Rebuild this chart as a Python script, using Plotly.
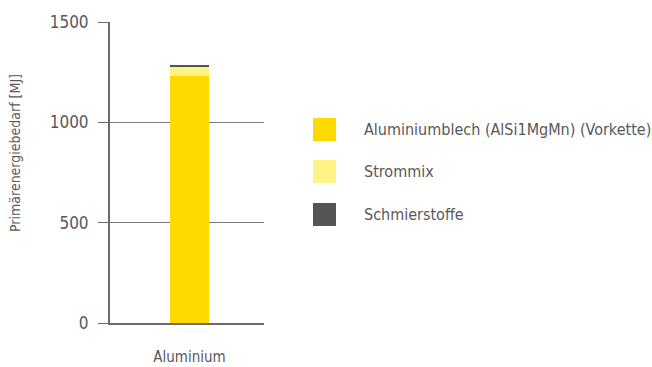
import plotly.graph_objects as go

# Primary energy demand per life-cycle contributor (MJ)
categories = ["Aluminium"]
series_names = ["Aluminiumblech (AlSi1MgMn) (Vorkette)", "Strommix", "Schmierstoffe"]
series_values = [[1230], [48], [6]]
series_colors = ["#FFDA00", "#FFF387", "#555558"]
y_ticks = [0, 500, 1000, 1500]

FONT = "Liberation Sans Narrow, DejaVu Sans Condensed, sans-serif"
TEXT = "#58585A"
AXIS = "#6A6A6A"

W, H = 652, 367
L, R, T, B = 110, 388, 22, 44
pw, ph = W - L - R, H - T - B

fig = go.Figure()
for name, vals, col in zip(series_names, series_values, series_colors):
    fig.add_trace(go.Bar(
        x=categories, y=vals, name=name,
        marker=dict(color=col, line=dict(width=0)),
        width=0.25, showlegend=False,
    ))


def px_x(p):
    return (p - L) / pw


def px_y(p):
    return (H - B - p) / ph


def font(size):
    return dict(family=FONT, size=size, color=TEXT)


# Legend built from squares and labels
legend_rows = [129.5, 171.5, 214.5]
for name, col, cy in zip(series_names, series_colors, legend_rows):
    fig.add_shape(type="rect", xref="paper", yref="paper",
                  x0=px_x(313), x1=px_x(336), y0=px_y(cy + 11.5), y1=px_y(cy - 11.5),
                  fillcolor=col, line=dict(width=0))
    fig.add_annotation(xref="paper", yref="paper", x=px_x(362), y=px_y(cy),
                       text=name, showarrow=False, xanchor="left", yanchor="middle",
                       font=font(16))

# Y-axis title
fig.add_annotation(xref="paper", yref="paper", x=px_x(15), y=px_y(153),
                   text="Primärenergiebedarf [MJ]", textangle=-90, showarrow=False,
                   xanchor="center", yanchor="middle", font=font(14))

fig.update_layout(
    width=W, height=H,
    margin=dict(l=L, r=R, t=T, b=B, pad=0),
    barmode="stack",
    plot_bgcolor="white", paper_bgcolor="white",
    font=font(17),
    xaxis=dict(
        range=[-0.516, 0.484], showgrid=False, zeroline=False,
        showline=True, linecolor=AXIS, linewidth=2,
        ticks="", ticklabelstandoff=19, automargin=False,
        tickfont=font(15),
    ),
    yaxis=dict(
        range=[0, 1501], tickvals=y_ticks, ticktext=[str(v) for v in y_ticks],
        showgrid=True, gridcolor="#7A7A7A", gridwidth=1, zeroline=False,
        showline=True, linecolor=AXIS, linewidth=2,
        ticks="outside", ticklen=10, tickcolor=AXIS, tickwidth=1,
        ticklabelstandoff=6, automargin=False,
        tickfont=font(17),
    ),
    bargap=0,
)

fig.write_html("out.html")
